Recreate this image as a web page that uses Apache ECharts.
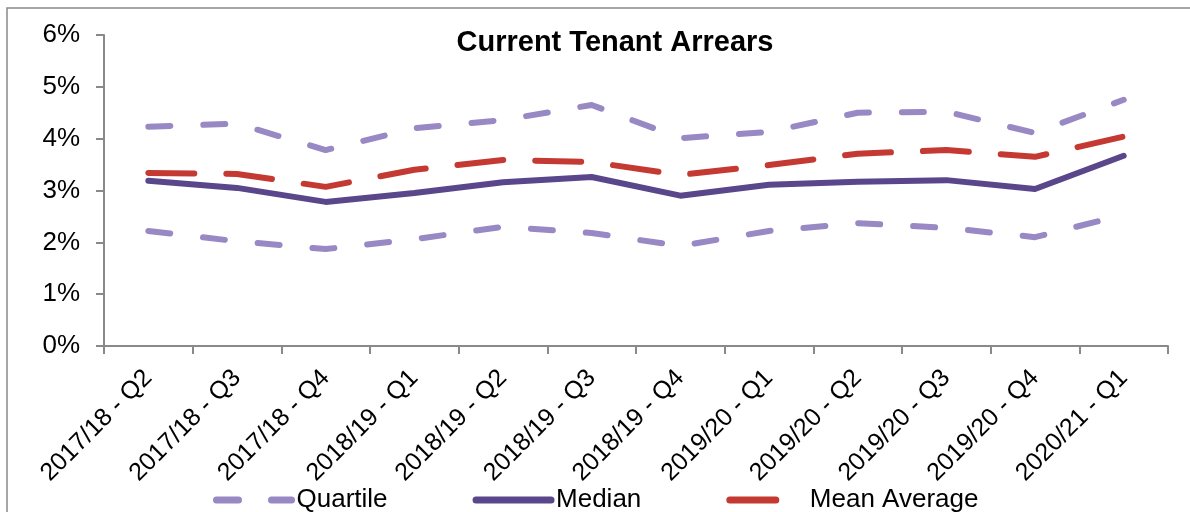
<!DOCTYPE html>
<html>
<head>
<meta charset="utf-8">
<script src="https://cdn.jsdelivr.net/npm/echarts@6/dist/echarts.min.js"></script>
<style>
  html, body { margin: 0; padding: 0; background: #fff; }
  #chart { width: 1190px; height: 512px; }
</style>
</head>
<body>
<div id="chart"></div>
<script>
var categories = ['2017/18 - Q2', '2017/18 - Q3', '2017/18 - Q4', '2018/19 - Q1', '2018/19 - Q2', '2018/19 - Q3',
    '2018/19 - Q4', '2019/20 - Q1', '2019/20 - Q2', '2019/20 - Q3', '2019/20 - Q4', '2020/21 - Q1'];
var upperQuartile = [4.23, 4.29, 3.78, 4.20, 4.36, 4.65, 4.01, 4.13, 4.50, 4.52, 4.11, 4.75];
var lowerQuartile = [2.22, 2.02, 1.87, 2.06, 2.30, 2.18, 1.93, 2.22, 2.37, 2.28, 2.10, 2.53];
var median = [3.19, 3.05, 2.78, 2.95, 3.16, 3.26, 2.90, 3.11, 3.17, 3.20, 3.03, 3.67];
var meanAverage = [3.34, 3.32, 3.07, 3.40, 3.59, 3.55, 3.30, 3.49, 3.71, 3.78, 3.65, 4.04];
var yTicks = [0, 1, 2, 3, 4, 5, 6];

var lavender = '#9888C4';
var purple = '#5A468A';
var red = '#C43A32';
var axisGray = '#898989';
var font = 'Liberation Sans, Arial, sans-serif';

var chart = echarts.init(document.getElementById('chart'));

var quartileLine = { color: lavender, width: 6, type: [22, 33], cap: 'round', join: 'round' };

var option = {
    animation: false,
    textStyle: { fontFamily: font },
    title: {
        text: 'Current Tenant Arrears',
        left: 615,
        textAlign: 'center',
        top: 28,
        padding: 0,
        textStyle: { fontSize: 29, fontWeight: 'bold', color: '#000', fontFamily: font }
    },
    graphic: [
        {
            type: 'rect',
            shape: { x: 7, y: 8, width: 1200, height: 520 },
            style: { fill: 'none', stroke: axisGray, lineWidth: 1.5 },
            silent: true
        }
    ],
    legend: {
        data: ['Quartile', 'Median', 'Mean Average'],
        left: 213,
        top: 487,
        padding: 0,
        itemWidth: 75,
        itemHeight: 14,
        itemGap: 85,
        itemStyle: { opacity: 0 },
        lineStyle: { width: 7 },
        textStyle: { fontSize: 26, color: '#000', fontFamily: font }
    },
    grid: { left: 104, right: 22, top: 35, bottom: 166, containLabel: false },
    xAxis: {
        type: 'category',
        data: categories,
        boundaryGap: true,
        axisLine: { lineStyle: { color: axisGray, width: 2 } },
        axisTick: { show: true, length: 8, lineStyle: { color: axisGray, width: 2 } },
        axisLabel: { rotate: 45, fontSize: 25, color: '#000', margin: 28, interval: 0, fontFamily: font },
        splitLine: { show: false }
    },
    yAxis: {
        type: 'value',
        min: yTicks[0],
        max: yTicks[yTicks.length - 1],
        interval: 1,
        axisLine: { show: true, lineStyle: { color: axisGray, width: 2 } },
        axisTick: { show: true, length: 8, lineStyle: { color: axisGray, width: 2 } },
        axisLabel: { formatter: '{value}%', fontSize: 26, color: '#000', margin: 24, fontFamily: font },
        splitLine: { show: false }
    },
    series: [
        {
            name: 'Quartile', type: 'line', data: upperQuartile, symbol: 'none',
            itemStyle: { color: lavender }, lineStyle: quartileLine
        },
        {
            name: 'Quartile', type: 'line', data: lowerQuartile, symbol: 'none',
            itemStyle: { color: lavender }, lineStyle: quartileLine
        },
        {
            name: 'Median', type: 'line', data: median, symbol: 'none',
            itemStyle: { color: purple }, lineStyle: { color: purple, width: 6, join: 'round', cap: 'round' }
        },
        {
            name: 'Mean Average', type: 'line', data: meanAverage, symbol: 'none',
            itemStyle: { color: red }, lineStyle: { color: red, width: 6, type: [46, 32], cap: 'round', join: 'round' }
        }
    ]
};

chart.setOption(option);
</script>
</body>
</html>
